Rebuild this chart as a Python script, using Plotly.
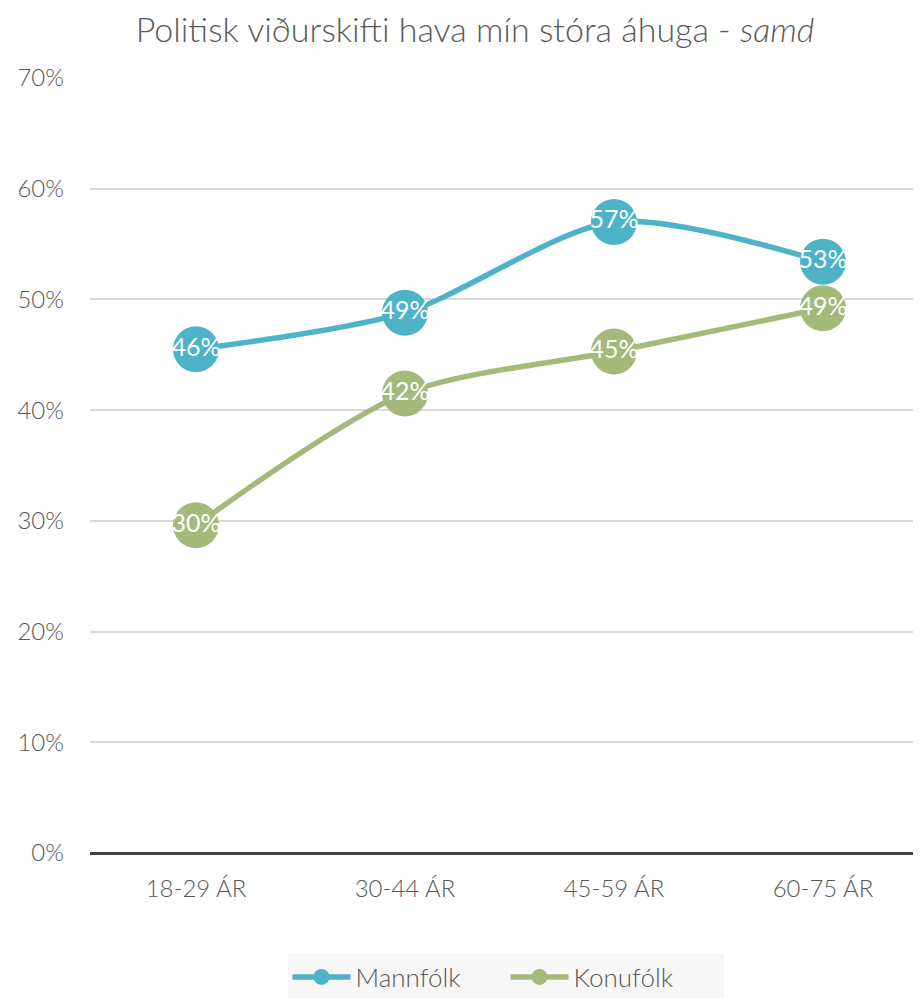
import plotly.graph_objects as go

categories = ["18-29 ÁR", "30-44 ÁR", "45-59 ÁR", "60-75 ÁR"]
mannfolk = [0.455, 0.488, 0.570, 0.534]
konufolk = [0.296, 0.415, 0.453, 0.492]
y_ticks = [0, 0.1, 0.2, 0.3, 0.4, 0.5, 0.6, 0.7]

fig = go.Figure()

def add_series(name, values, color):
    fig.add_trace(go.Scatter(
        x=categories, y=values, name=name,
        mode="lines+markers+text",
        line=dict(color=color, width=5.5, shape="spline", smoothing=0.8),
        marker=dict(size=46, color=color),
        text=[f"{v:.0%}" for v in values],
        textposition="middle center",
        textfont=dict(color="white", size=25, family="Lato", weight=400),
        cliponaxis=False,
    ))

add_series("Mannfólk", mannfolk, "#4fb3c8")
add_series("Konufólk", konufolk, "#a5b97a")

# page body has an 8px margin, so the figure is shifted by 8px
fig.update_layout(
    width=913, height=990,
    margin=dict(l=82, r=0, t=70, b=145, autoexpand=False),
    paper_bgcolor="white", plot_bgcolor="white",
    font=dict(family="Lato", color="#595959", size=24, weight=300),
    title=dict(text="Politisk viðurskifti hava mín stóra áhuga - <i>samd</i>",
               x=467 / 913, xanchor="center", y=1 - 22 / 990, yanchor="middle",
               font=dict(size=34, color="#595959", weight=300)),
    showlegend=True,
    legend=dict(orientation="h", x=0.5, xanchor="center", y=-0.16, yanchor="middle",
                bgcolor="#f7f7f7", font=dict(size=26, color="#595959", weight=300),
                itemwidth=58, entrywidth=145, entrywidthmode="pixels"),
)
fig.update_xaxes(range=[-0.507, 3.469], showgrid=False, showline=False, ticks="",
                 ticklabelstandoff=19, automargin=False)
fig.update_yaxes(range=[0, 0.7], tickvals=y_ticks, tickformat=".0%",
                 showgrid=True, gridcolor="#d9d9d9", gridwidth=2,
                 zeroline=True, zerolinecolor="#404040", zerolinewidth=3,
                 ticks="", ticklabelstandoff=25, automargin=False)

fig.write_html("out.html")
